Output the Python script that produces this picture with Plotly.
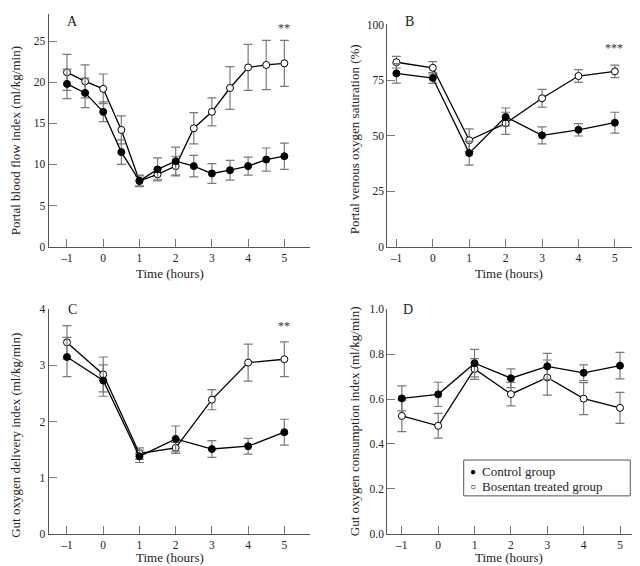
import plotly.graph_objects as go

# ---------------- data ----------------
time_a = [-1, -0.5, 0, 0.5, 1, 1.5, 2, 2.5, 3, 3.5, 4, 4.5, 5]
time_h = [-1, 0, 1, 2, 3, 4, 5]

# Panel A: portal blood flow index (ml/kg/min)
a_ctrl = [19.8, 18.7, 16.4, 11.5, 8.0, 9.4, 10.4, 9.8, 8.9, 9.3, 9.8, 10.6, 11.0]
a_ctrl_err = [1.8, 1.8, 1.2, 1.5, 0.7, 1.4, 1.7, 1.3, 1.2, 1.2, 1.1, 1.4, 1.6]
a_bos = [21.2, 20.1, 19.2, 14.2, 8.0, 8.8, 9.8, 14.4, 16.4, 19.3, 21.8, 22.1, 22.3]
a_bos_err = [2.2, 2.0, 1.8, 1.7, 0.6, 0.6, 1.2, 1.9, 1.7, 2.6, 2.8, 3.0, 2.8]

# Panel B: portal venous oxygen saturation (%)
b_ctrl = [78.0, 75.9, 42.1, 58.4, 50.1, 52.6, 55.8]
b_ctrl_err = [4.4, 2.4, 5.4, 4.0, 3.8, 2.8, 4.7]
b_bos = [83.0, 80.5, 47.9, 55.5, 66.8, 76.8, 78.9]
b_bos_err = [2.6, 2.8, 5.1, 5.0, 4.0, 2.9, 2.8]

# Panel C: gut oxygen delivery index (ml/kg/min)
c_ctrl = [3.15, 2.73, 1.38, 1.69, 1.51, 1.56, 1.81]
c_ctrl_err = [0.35, 0.28, 0.11, 0.23, 0.15, 0.14, 0.23]
c_bos = [3.41, 2.84, 1.43, 1.53, 2.39, 3.05, 3.11]
c_bos_err = [0.30, 0.31, 0.10, 0.10, 0.18, 0.33, 0.31]

# Panel D: gut oxygen consumption index (ml/kg/min)
d_ctrl = [0.603, 0.621, 0.760, 0.693, 0.746, 0.717, 0.749]
d_ctrl_err = [0.056, 0.054, 0.061, 0.042, 0.058, 0.035, 0.059]
d_bos = [0.525, 0.481, 0.734, 0.622, 0.696, 0.602, 0.561]
d_bos_err = [0.070, 0.055, 0.046, 0.052, 0.078, 0.071, 0.069]

x_tickvals = [-1, 0, 1, 2, 3, 4, 5]
x_ticktext = ["\u20131", "0", "1", "2", "3", "4", "5"]

legend_labels = ["Control group", "Bosentan treated group"]

FONT = "Liberation Serif"
W, H = 640, 566

fig = go.Figure()

def add_pair(x, ctrl, ctrl_err, bos, bos_err, xa, ya):
    err_style = dict(color="#7a7a7a", thickness=1.2, width=4.5)
    fig.add_trace(go.Scatter(
        x=x, y=bos, mode="lines+markers", name=legend_labels[1],
        xaxis=xa, yaxis=ya, showlegend=False,
        line=dict(color="black", width=1.3),
        marker=dict(symbol="circle", size=7, color="white",
                    line=dict(color="black", width=1)),
        error_y=dict(type="data", array=bos_err, visible=True, **err_style)))
    fig.add_trace(go.Scatter(
        x=x, y=ctrl, mode="lines+markers", name=legend_labels[0],
        xaxis=xa, yaxis=ya, showlegend=False,
        line=dict(color="black", width=1.3),
        marker=dict(symbol="circle", size=7, color="black",
                    line=dict(color="black", width=1)),
        error_y=dict(type="data", array=ctrl_err, visible=True, **err_style)))

add_pair(time_a, a_ctrl, a_ctrl_err, a_bos, a_bos_err, "x", "y")
add_pair(time_h, b_ctrl, b_ctrl_err, b_bos, b_bos_err, "x2", "y2")
add_pair(time_h, c_ctrl, c_ctrl_err, c_bos, c_bos_err, "x3", "y3")
add_pair(time_h, d_ctrl, d_ctrl_err, d_bos, d_bos_err, "x4", "y4")

def xdom(p0, p1):
    return [p0 / W, p1 / W]

def ydom(pbottom, ptop):
    return [1 - pbottom / H, 1 - ptop / H]

axis_common = dict(showline=True, linecolor="#555", linewidth=1.2, ticks="inside",
                   ticklen=8, tickcolor="#777", tickwidth=1.2, showgrid=False,
                   zeroline=False, tickfont=dict(family=FONT, size=11.5, color="#222"))

xcommon = dict(axis_common, tickvals=x_tickvals, ticktext=x_ticktext)

fig.update_layout(
    width=W, height=H, margin=dict(l=0, r=0, t=0, b=0),
    paper_bgcolor="white", plot_bgcolor="white", showlegend=False,
    font=dict(family=FONT, size=12, color="#222"),
    xaxis=dict(xcommon, domain=xdom(40.7, 301.7), range=[-1.505, 5.70], anchor="y"),
    yaxis=dict(axis_common, domain=ydom(237.7, 0), range=[0, 28.3], anchor="x",
               tickvals=[0, 5, 10, 15, 20, 25]),
    xaxis2=dict(xcommon, domain=xdom(379.3, 640), range=[-1.25, 5.91], anchor="y2"),
    yaxis2=dict(axis_common, domain=ydom(237.7, 10.7), range=[0, 100], anchor="x2",
                tickvals=[0, 25, 50, 75, 100]),
    xaxis3=dict(xcommon, domain=xdom(40.7, 301.7), range=[-1.505, 5.70], anchor="y3"),
    yaxis3=dict(axis_common, domain=ydom(531, 301.7), range=[0, 4], anchor="x3",
                tickvals=[0, 1, 2, 3, 4]),
    xaxis4=dict(xcommon, domain=xdom(379.3, 640), range=[-1.40, 5.77], anchor="y4"),
    yaxis4=dict(axis_common, domain=ydom(531, 301.7), range=[0, 1.0], anchor="x4",
                tickvals=[0, 0.2, 0.4, 0.6, 0.8, 1.0], tickformat=".1f"),
)

# custom legend box
fig.add_shape(type="rect", xref="paper", yref="paper",
              x0=455.7 / W, x1=622.3 / W, y0=1 - 492.3 / H, y1=1 - 455.7 / H,
              line=dict(color="#555", width=1), fillcolor="white", layer="above")

ann = []
def txt(x, y, s, size=14, angle=0, color="#222", xanchor="center"):
    ann.append(dict(x=x / W, y=1 - y / H, xref="paper", yref="paper", text=s,
                    showarrow=False, textangle=angle, xanchor=xanchor, yanchor="middle",
                    font=dict(family=FONT, size=size, color=color)))

# legend content
txt(465, 467.5, "\u25cf", 10, color="black")
txt(465, 482.5, "\u25cb", 10, color="black")
txt(472, 467.5, legend_labels[0], 13, xanchor="left")
txt(472, 482.5, legend_labels[1], 13, xanchor="left")

# panel letters
txt(64, 8, "A", 14)
txt(401, 8, "B", 14)
txt(64, 302, "C", 14)
txt(400, 302, "D", 14)
# significance markers
txt(276, 14, "**", 12, color="#333")
txt(606, 35, "***", 12, color="#333")
txt(276, 319, "**", 12, color="#333")
# axis titles
txt(162, 265, "Time (hours)", 13)
txt(501, 265, "Time (hours)", 13)
txt(162, 555, "Time (hours)", 13)
txt(501, 555, "Time (hours)", 13)
txt(7, 130, "Portal blood flow index (ml/kg/min)", 13, -90)
txt(346, 128, "Portal venous oxygen saturation (%)", 13, -90)
txt(8, 431, "Gut oxygen delivery index (ml/kg/min)", 13, -90)
txt(346, 416, "Gut oxygen consumption index (ml/kg/min)", 13, -90)
fig.update_layout(annotations=ann)

fig.write_html("out.html")
